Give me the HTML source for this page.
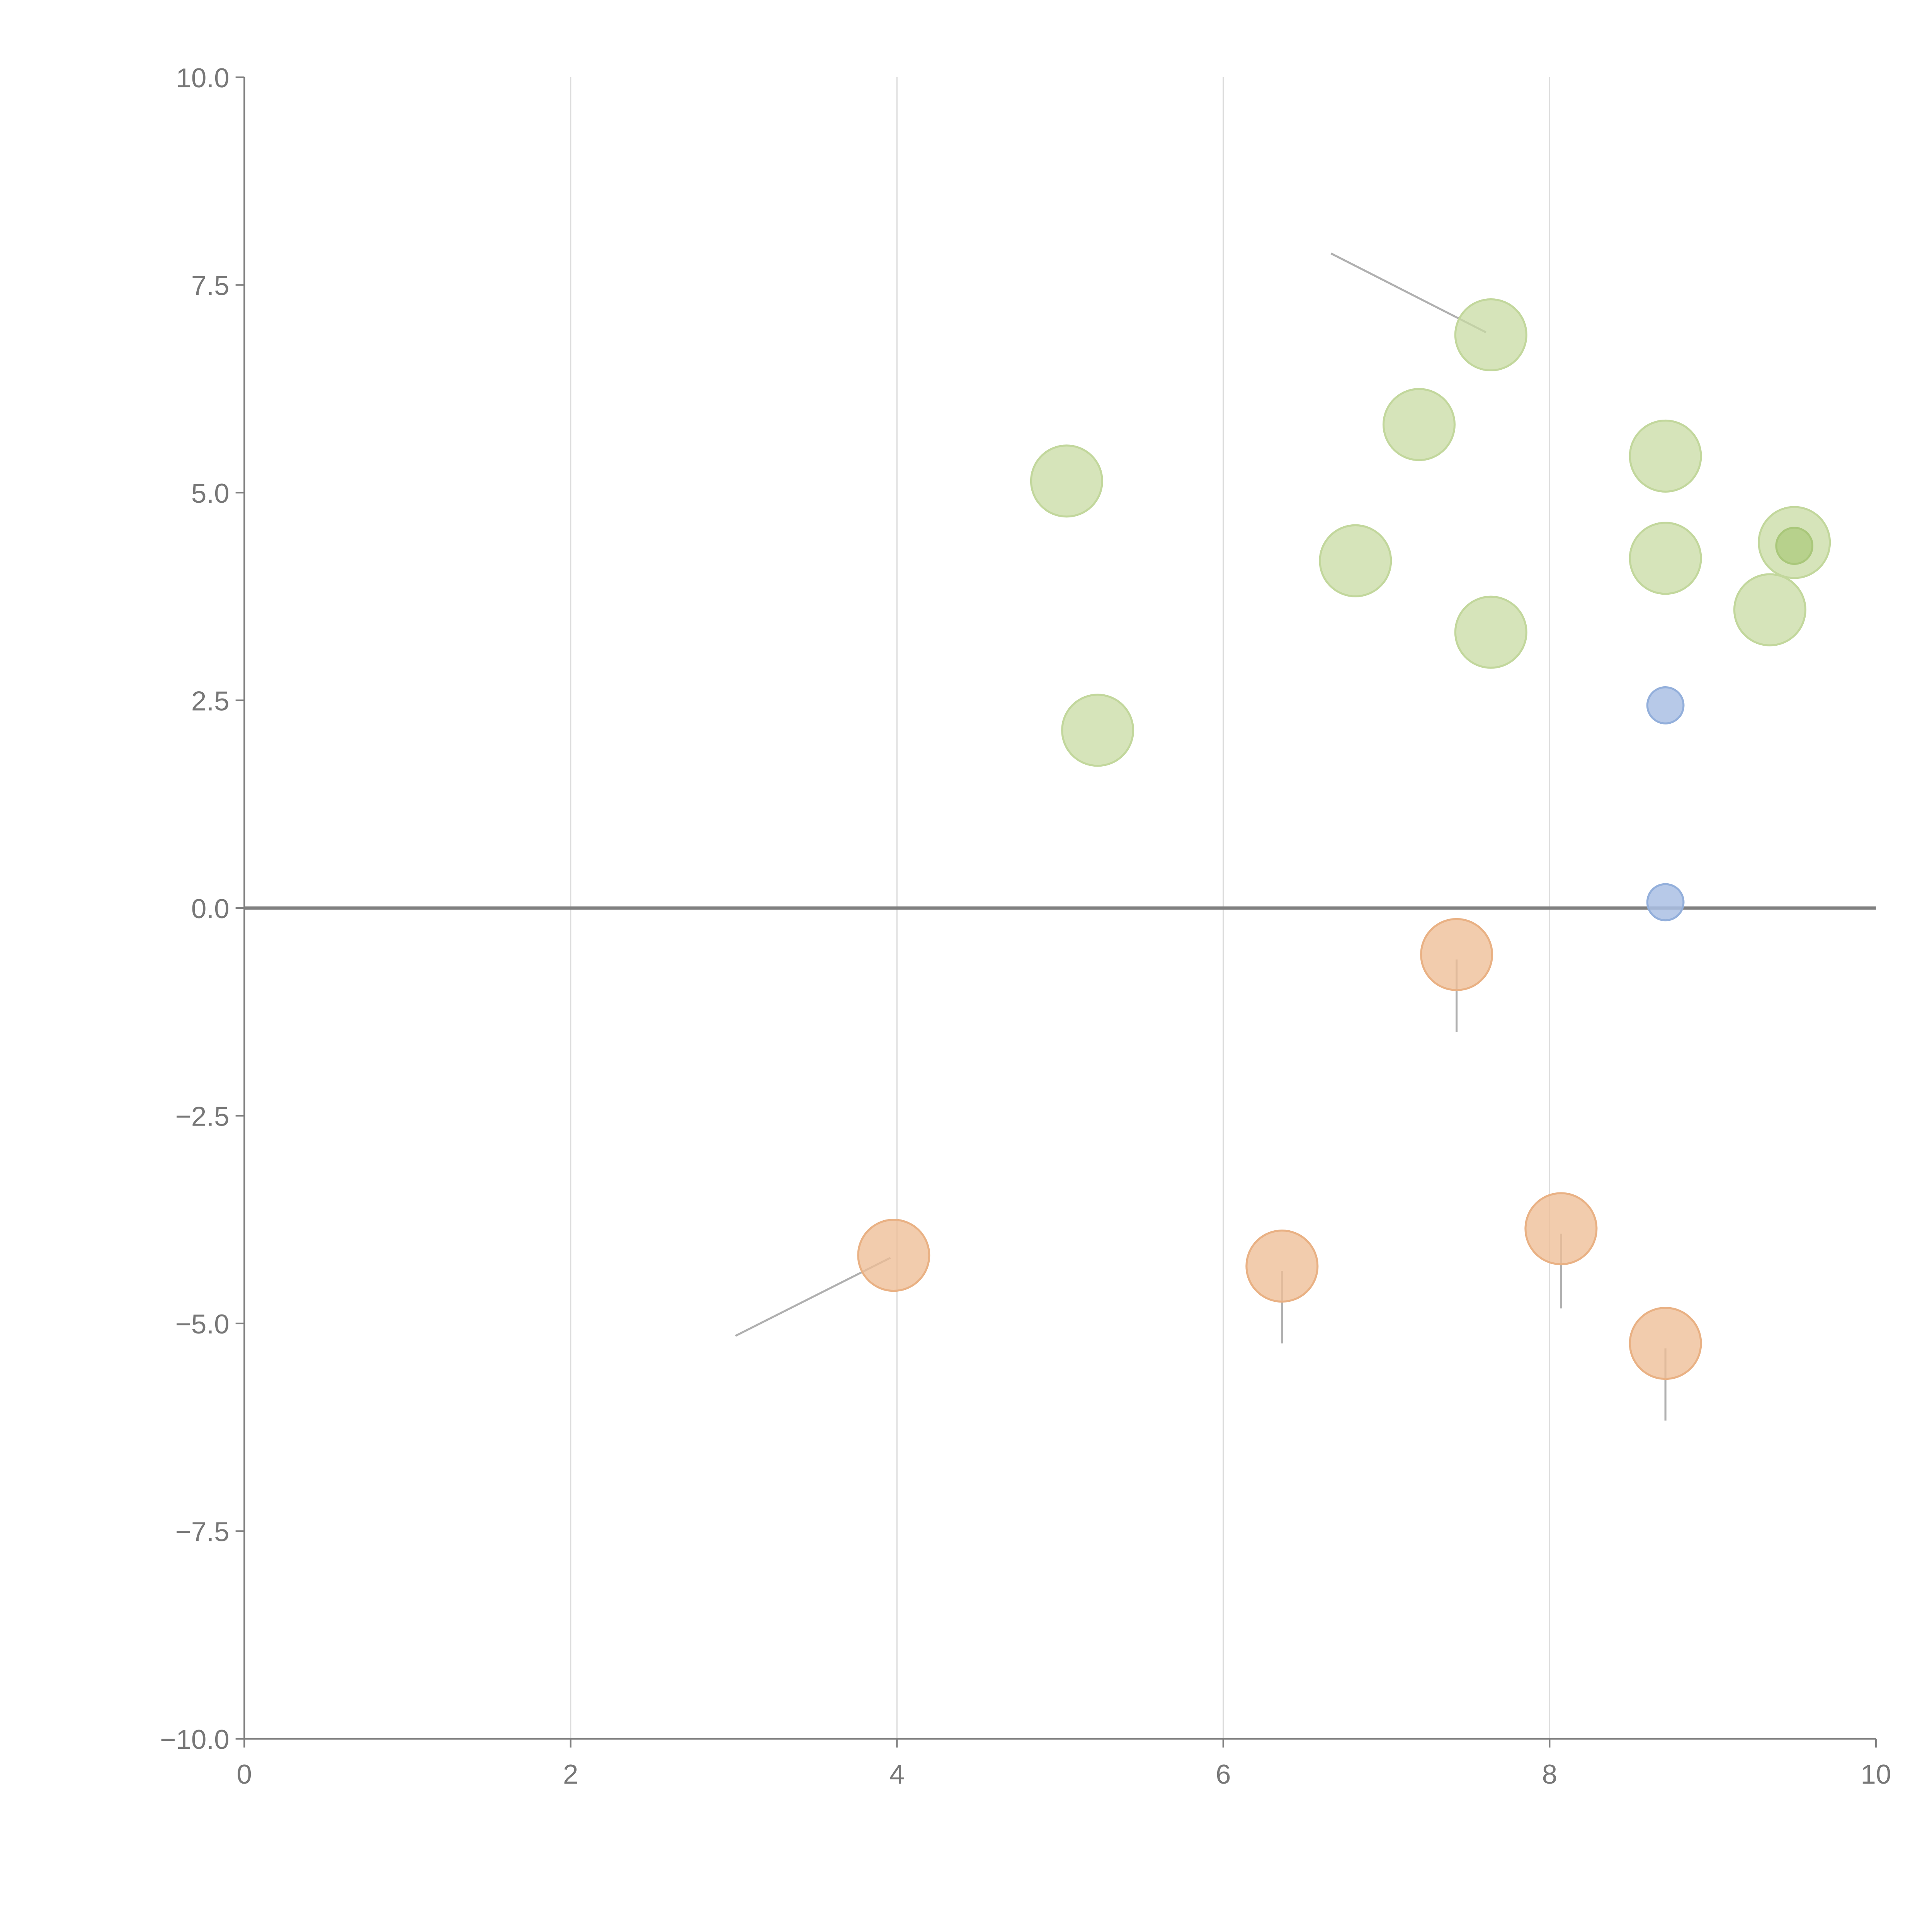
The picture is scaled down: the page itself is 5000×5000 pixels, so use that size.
<!DOCTYPE html>
<html><head><meta charset="utf-8"><style>
html,body{margin:0;padding:0;background:#fff;}
svg{display:block;}
</style></head><body>
<svg id="chart" width="5000" height="5000" viewBox="0 0 1550 1550" xmlns="http://www.w3.org/2000/svg" font-family="Liberation Sans, sans-serif">
<g id="grid"></g>
<g id="axes"></g>
<g id="leaders"></g>
<g id="marks"></g>
</svg>
<script>
const xTicks = [0, 2, 4, 6, 8, 10];
const yTicks = [10, 7.5, 5, 2.5, 0, -2.5, -5, -7.5, -10];
const yTickLabels = ["10.0","7.5","5.0","2.5","0.0","\u22122.5","\u22125.0","\u22127.5","\u221210.0"];
const greenX = [7.64, 7.20, 5.04, 8.71, 6.81, 8.71, 9.50, 9.35, 7.64, 5.23];
const greenY = [6.90, 5.82, 5.14, 5.44, 4.18, 4.21, 4.40, 3.59, 3.32, 2.14];
const darkGreenX = [9.50];
const darkGreenY = [4.36];
const blueX = [8.71, 8.71];
const blueY = [2.44, 0.07];
const orangeX = [7.43, 3.98, 6.36, 8.07, 8.71];
const orangeY = [-0.56, -4.18, -4.31, -3.86, -5.24];
const leaderX1 = [6.66, 3.01];
const leaderY1 = [7.88, -5.15];
const leaderX2 = [7.61, 3.96];
const leaderY2 = [6.93, -4.21];
const stemX = [7.43, 6.36, 8.07, 8.71];
const stemTop = [-0.62, -4.37, -3.92, -5.30];
const stemBottom = [-1.49, -5.24, -4.82, -6.17];

const X0=196, X1=1505, Y0=62, Y1=1395;
const sx = v => X0 + (v-0)/(10-0)*(X1-X0);
const sy = v => Y0 + (10-v)/(20)*(Y1-Y0);
const NS="http://www.w3.org/2000/svg";
function mk(tag, attrs, parent){const e=document.createElementNS(NS,tag);for(const k in attrs)e.setAttribute(k,attrs[k]);parent.appendChild(e);return e;}
const grid=document.getElementById('grid'), axes=document.getElementById('axes'), leaders=document.getElementById('leaders'), marks=document.getElementById('marks');

xTicks.forEach(t=>{
  if(t>0&&t<10){const l=mk('line',{x1:sx(t),x2:sx(t),y1:Y0,y2:Y1,stroke:'#dcdcdc','stroke-width':1},grid);
  
  }
  const tk=mk('line',{x1:sx(t),x2:sx(t),y1:Y1,y2:Y1+7,stroke:'#808080','stroke-width':1.3},axes);
  
  
  const tx=mk('text',{x:sx(t),y:Y1+36,'text-anchor':'middle','font-size':22,fill:'#777'},axes);
  tx.textContent=t;
  
  
});
yTicks.forEach((t,i)=>{
  const tk=mk('line',{x1:X0-7,x2:X0,y1:sy(t),y2:sy(t),stroke:'#808080','stroke-width':1.3},axes);
  
  
  const tx=mk('text',{x:X0-12,y:sy(t)+8,'text-anchor':'end','font-size':22,fill:'#777'},axes);
  tx.textContent=yTickLabels[i];
  
  
});
let a=mk('line',{x1:X0,x2:X0,y1:Y0,y2:Y1,stroke:'#808080','stroke-width':1.3},axes);


a=mk('line',{x1:X0,x2:X1,y1:Y1,y2:Y1,stroke:'#808080','stroke-width':1.3},axes);


a=mk('line',{x1:X0,x2:X1,y1:sy(0),y2:sy(0),stroke:'#808080','stroke-width':2.6},axes);



leaderX1.forEach((v,i)=>{
  const l=mk('line',{x1:sx(v),y1:sy(leaderY1[i]),x2:sx(leaderX2[i]),y2:sy(leaderY2[i]),stroke:'#b0b0b0','stroke-width':1.6},leaders);
  
  
});
stemX.forEach((v,i)=>{
  const l=mk('line',{x1:sx(v),x2:sx(v),y1:sy(stemTop[i]),y2:sy(stemBottom[i]),stroke:'#b0b0b0','stroke-width':1.6},leaders);
  
  
});

function series(xs, ys, r, fill, stroke, name){
  xs.forEach((v,i)=>{
    const c=mk('circle',{cx:sx(v),cy:sy(ys[i]),r:r,fill:fill,stroke:stroke,'stroke-width':1.6},marks);
    
    
  });
}
series(greenX, greenY, 28.5, 'rgba(200,219,163,0.75)', '#c2d79c', 'green-point');
series(orangeX, orangeY, 28.5, 'rgba(238,190,150,0.78)', '#e9b184', 'orange-point');
series(blueX, blueY, 14.5, 'rgba(170,192,228,0.85)', '#93afdb', 'blue-point');
series(darkGreenX, darkGreenY, 14.5, 'rgba(180,206,135,0.9)', '#a9c77a', 'dark-green-point');
</script>
</body></html>
